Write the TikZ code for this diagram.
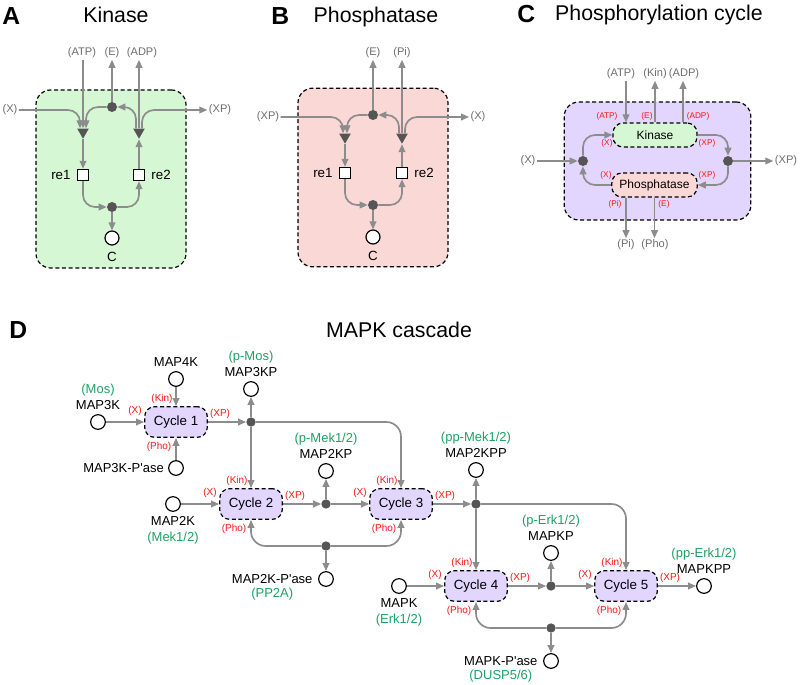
\documentclass[tikz,border=0pt]{standalone}
\usepackage{fontspec}
\setmainfont{Liberation Sans}
\usetikzlibrary{arrows.meta, shapes.geometric, positioning, calc}

\definecolor{linkgray}{RGB}{140,140,140}
\definecolor{dotgray}{RGB}{85,85,85}
\definecolor{txtgray}{RGB}{110,110,110}
\definecolor{altgreen}{RGB}{30,160,100}
\definecolor{portred}{RGB}{250,20,20}
\definecolor{kinfill}{RGB}{214,247,212}
\definecolor{phofill}{RGB}{250,216,214}
\definecolor{cycfill}{RGB}{226,214,255}

\newcommand{\altname}[1]{\textcolor{altgreen}{#1}}

\begin{document}
\begin{tikzpicture}[x=0.75pt,y=-0.75pt,>={Triangle[length=6pt,width=5pt]},label distance=3pt,
  link/.style={draw=linkgray,line width=1.25pt,rounded corners=9pt},
  module/.style={draw,line width=0.9pt,dash pattern=on 3pt off 2pt,rounded corners=11pt},
  cyc/.style={module,fill=cycfill,rounded corners=7.5pt,minimum width=47pt,minimum height=23pt,font=\fontsize{10}{12}\selectfont},
  junc/.style={circle,fill=dotgray,minimum size=7.5pt,inner sep=0pt},
  djunc/.style={junc,minimum size=7pt},
  tri/.style={regular polygon,regular polygon sides=3,shape border rotate=180,fill=dotgray,minimum size=10pt,inner sep=0pt},
  reaction/.style={draw,fill=white,line width=0.8pt,minimum size=8.5pt,inner sep=0pt},
  species/.style={circle,draw,fill=white,line width=0.9pt,minimum size=11pt,inner sep=0pt},
  panel/.style={font=\fontsize{18.5}{22}\selectfont\bfseries,inner sep=0pt},
  ttl/.style={font=\fontsize{16}{19}\selectfont,inner sep=0pt},
  gtxt/.style={text=txtgray,font=\fontsize{8.3}{10}\selectfont,inner sep=1pt},
  lbl/.style={font=\fontsize{10}{12}\selectfont,inner sep=1.5pt},
  spname/.style={font=\fontsize{9.75}{12}\selectfont,align=center,inner sep=0pt},
  dport/.style={text=portred,font=\fontsize{7.5}{9}\selectfont,inner sep=0pt},
  cport/.style={dport,font=\fontsize{6.2}{7.5}\selectfont}]

\useasboundingbox (0,0) rectangle (800,685);

% A: kinase reaction
  \node[panel,anchor=base west] (pa) at (2,25) {A};
  \node[ttl,anchor=base] (tita) at (116,23) {Kinase};
  \node[module,fill=kinfill,minimum width=112.5pt,minimum height=133.5pt] (boxa) at (111,179) {};
  \node[gtxt] (atpa) at (82,53) {(ATP)};
  \node[gtxt] (ea) at (112,53) {(E)};
  \node[gtxt] (adpa) at (142,53) {(ADP)};
  \node[gtxt] (xa) at (10,110) {(X)};
  \node[gtxt] (xpa) at (220,110) {(XP)};
  \node[junc] (ja1) at (112,107) {};
  \node[tri] (ta1) at (83,132) {};
  \node[tri] (ta2) at (139,132) {};
  \node[reaction,label={[lbl]left:re1}] (rea1) at (83,175) {};
  \node[reaction,label={[lbl]right:re2}] (rea2) at (139,175) {};
  \node[junc] (ja2) at (112,207) {};
  \node[species,minimum size=10.5pt,label={[lbl]below:C}] (ca) at (112,238) {};

  \draw[link,->] (xa.east) -| ($(ta1.north)+(-3,0)$);
  \draw[link,->] (atpa.south -| ta1.north) -- (ta1.north);
  \draw[link,->] (ja1.west) -| ($(ta1.north)+(3,0)$);
  \draw[link,->] (ta1.south) -- (rea1.north);
  \draw[link,->] (rea1.south) |- (ja2.west);
  \draw[link,->] (ja2.east) -| (rea2.south);
  \draw[link,->] (ja2.south) -- (ca.north);
  \draw[link,->] (rea2.north) -- (ta2.south);
  \draw[link,->] ($(ta2.north)+(-3,0)$) |- (ja1.east);
  \draw[link,->] (ta2.north) -- (ta2.north |- adpa.south);
  \draw[link,->] ($(ta2.north)+(3,0)$) |- (xpa.west);
  \draw[link,->] (ja1.north) -- (ja1.north |- ea.south);

% B: phosphatase reaction
  \node[panel,anchor=base west] (pb) at (271,25) {B};
  \node[ttl,anchor=base] (titb) at (376,23) {Phosphatase};
  \node[module,fill=phofill,minimum width=112.5pt,minimum height=134pt] (boxb) at (373,177.5) {};
  \node[gtxt] (eb) at (373,53) {(E)};
  \node[gtxt] (pib) at (402,53) {(Pi)};
  \node[gtxt] (xpb) at (268,117) {(XP)};
  \node[gtxt] (xb) at (478,117) {(X)};
  \node[junc] (jb1) at (373,115) {};
  \node[tri] (tb1) at (345,137) {};
  \node[tri] (tb2) at (402,137) {};
  \node[reaction,label={[lbl]left:re1}] (reb1) at (345,173) {};
  \node[reaction,label={[lbl]right:re2}] (reb2) at (402,173) {};
  \node[junc] (jb2) at (373,205) {};
  \node[species,minimum size=10.5pt,label={[lbl]below:C}] (cb) at (373,237) {};

  \draw[link,->] (xpb.east) -| ($(tb1.north)+(-2,0)$);
  \draw[link,->] (jb1.west) -| ($(tb1.north)+(2,0)$);
  \draw[link,->] (tb1.south) -- (reb1.north);
  \draw[link,->] (reb1.south) |- (jb2.west);
  \draw[link,->] (jb2.east) -| (reb2.south);
  \draw[link,->] (jb2.south) -- (cb.north);
  \draw[link,->] (reb2.north) -- (tb2.south);
  \draw[link,->] ($(tb2.north)+(-3,0)$) |- (jb1.east);
  \draw[link,->] (tb2.north) -- (tb2.north |- pib.south);
  \draw[link,->] ($(tb2.north)+(3,0)$) |- (xb.west);
  \draw[link,->] (jb1.north) -- (jb1.north |- eb.south);

% C: phosphorylation cycle
  \node[panel,anchor=base west] (pc) at (517,23) {C};
  \node[ttl,anchor=base] (titc) at (659,21) {Phosphorylation cycle};
  \node[module,fill=cycfill,minimum width=140pt,minimum height=88.5pt] (boxc) at (657.5,161) {};
  \node[module,fill=kinfill,rounded corners=7.5pt,minimum width=63pt,minimum height=18pt,font=\fontsize{9}{11}\selectfont] (kinc) at (655,135) {Kinase};
  \node[module,fill=phofill,rounded corners=7.5pt,minimum width=64pt,minimum height=18pt,font=\fontsize{9}{11}\selectfont] (phoc) at (654.5,185) {Phosphatase};
  \node[junc] (jc1) at (583,161) {};
  \node[junc] (jc2) at (728,161) {};
  \node[gtxt] (xc) at (528,161) {(X)};
  \node[gtxt] (xpc) at (786,161) {(XP)};
  \node[gtxt] (atpc) at (621,74) {(ATP)};
  \node[gtxt] (kinl) at (655,74) {(Kin)};
  \node[gtxt] (adpc) at (684,74) {(ADP)};
  \node[gtxt] (pic) at (626,245) {(Pi)};
  \node[gtxt] (phol) at (655,245) {(Pho)};
  \coordinate (katp) at ($(kinc.north)+(-29,0)$);
  \coordinate (kadp) at ($(kinc.north)+(28,0)$);
  \coordinate (ppi) at ($(phoc.south)+(-28.5,0)$);

  \node[cport] (c-atp) at (607,116) {(ATP)};
  \node[cport] (c-e) at (647,116) {(E)};
  \node[cport] (c-adp) at (698,116) {(ADP)};
  \node[cport] (c-kx) at (607,143) {(X)};
  \node[cport] (c-kxp) at (707,143) {(XP)};
  \node[cport] (c-px) at (606,175) {(X)};
  \node[cport] (c-pxp) at (707,175) {(XP)};
  \node[cport] (c-pi) at (615,204) {(Pi)};
  \node[cport] (c-pe) at (664,204) {(E)};

  \draw[link,->] (xc.east) -- (jc1.west);
  \draw[link,->] (jc2.east) -- (xpc.west);
  \draw[link,->] (jc1.north) |- (kinc.west);
  \draw[link,->] (kinc.east) -| (jc2.north);
  \draw[link,->] (jc2.south) |- (phoc.east);
  \draw[link,->] (phoc.west) -| (jc1.south);
  \draw[link,->] (katp |- atpc.south) -- (katp);
  \draw[link,->] (kinc.north) -- (kinc.north |- kinl.south);
  \draw[link,->] (kadp) -- (kadp |- adpc.south);
  \draw[link,->] (ppi) -- (ppi |- pic.north);
  \draw[link,->] (phoc.south) -- (phoc.south |- phol.north);

% D: MAPK cascade
  \node[panel,anchor=base west] (pd) at (9,338) {D};
  \node[ttl,anchor=base] (titd) at (399,337) {MAPK cascade};

% define the cycles and their ports
  \foreach \n/\cx/\cy in {1/176/422,2/251/504,3/401/504,4/476/586,5/626/586}{
    \node[cyc] (cyc\n) at (\cx,\cy) {Cycle \n};
    \node[dport] (cyc\n-x) at (\cx-41,\cy-11) {(X)};
    \node[dport] (cyc\n-xp) at (\cx+44,\cy-8) {(XP)};
    \node[dport] (cyc\n-kin) at (\cx-14,\cy-23) {(Kin)};
    \node[dport] (cyc\n-pho) at (\cx-17,\cy+25) {(Pho)};
  }

% define the species
  \node[species,label={[spname]above:{\altname{(Mos)}\\MAP3K}}] (map3k) at (98,422) {};
  \node[species,label={[spname]above:MAP4K}] (map4k) at (176,379) {};
  \node[species,label={[spname]left:MAP3K-P\textquotesingle ase}] (map3kpase) at (176,468) {};
  \node[species,label={[spname]above:{\altname{(p-Mos)}\\MAP3KP}}] (map3kp) at (251,389) {};
  \node[species,label={[spname]below:{MAP2K\\\altname{(Mek1/2)}}}] (map2k) at (173,504) {};
  \node[species,label={[spname]above:{\altname{(p-Mek1/2)}\\MAP2KP}}] (map2kp) at (326,471) {};
  \node[species,label={[spname]above:{\altname{(pp-Mek1/2)}\\MAP2KPP}}] (map2kpp) at (476,470) {};
  \node[species] (map2kpase) at (326,579) {};
  \node[spname,left=4pt of map2kpase] (map2kpase-l) {MAP2K-P\textquotesingle ase};
  \node[spname,text=altgreen,below=3pt of map2kpase-l] (pp2a) {(PP2A)};
  \node[species,label={[spname]below:{MAPK\\\altname{(Erk1/2)}}}] (mapk) at (399,586) {};
  \node[species,label={[spname]above:{\altname{(p-Erk1/2)}\\MAPKP}}] (mapkp) at (551,553) {};
  \node[species,label={[spname]above:{\altname{(pp-Erk1/2)}\\MAPKPP}}] (mapkpp) at (704,586) {};
  \node[species] (mapkpase) at (551,661) {};
  \node[spname,left=4pt of mapkpase] (mapkpase-l) {MAPK-P\textquotesingle ase};
  \node[spname,text=altgreen,below=3pt of mapkpase-l] (dusp) {(DUSP5/6)};

  \node[djunc] (j1) at (251,422) {};
  \node[djunc] (j2) at (326,504) {};
  \node[djunc] (j3) at (476,504) {};
  \node[djunc] (j4) at (551,586) {};
  \node[djunc] (jp2) at (326,546) {};
  \node[djunc] (jp3) at (551,628) {};

% define the links
  \draw[link,->] (map3k) -- (cyc1);
  \draw[link,->] (map4k) -- (cyc1);
  \draw[link,->] (map3kpase) -- (cyc1);
  \draw[link,->] (cyc1) -- (j1);
  \draw[link,->] (j1) -- (map3kp);
  \draw[link,->] (j1) -- (cyc2);
  \draw[link,->,rounded corners=11pt] (j1.east) -| (cyc3.north);
  \draw[link,->] (map2k) -- (cyc2);
  \draw[link,->] (cyc2) -- (j2);
  \draw[link,->] (j2) -- (map2kp);
  \draw[link,->] (j2) -- (cyc3);
  \draw[link,->,rounded corners=11pt] (jp2.west) -| (cyc2.south);
  \draw[link,->,rounded corners=11pt] (jp2.east) -| (cyc3.south);
  \draw[link,->] (jp2) -- (map2kpase);
  \draw[link,->] (cyc3) -- (j3);
  \draw[link,->] (j3) -- (map2kpp);
  \draw[link,->] (j3) -- (cyc4);
  \draw[link,->,rounded corners=11pt] (j3.east) -| (cyc5.north);
  \draw[link,->] (mapk) -- (cyc4);
  \draw[link,->] (cyc4) -- (j4);
  \draw[link,->] (j4) -- (mapkp);
  \draw[link,->] (j4) -- (cyc5);
  \draw[link,->] (cyc5) -- (mapkpp);
  \draw[link,->,rounded corners=11pt] (jp3.west) -| (cyc4.south);
  \draw[link,->,rounded corners=11pt] (jp3.east) -| (cyc5.south);
  \draw[link,->] (jp3) -- (mapkpase);

\end{tikzpicture}
\end{document}
